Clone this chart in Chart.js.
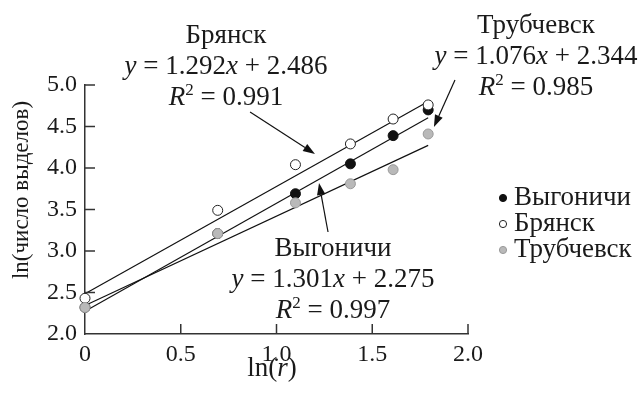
<!DOCTYPE html>
<html>
<head>
<meta charset="utf-8">
<script src="https://cdn.jsdelivr.net/npm/chart.js@4.4.1/dist/chart.umd.min.js"></script>
<style>
  html, body { margin: 0; padding: 0; background: #fff; }
  canvas { display: block; }
</style>
</head>
<body>
<canvas id="c" width="641" height="393"></canvas>
<script>
// ln(r) for r = 1..6
const lnR = [0, 0.693, 1.099, 1.386, 1.609, 1.792];
const sites = ['Выгоничи', 'Брянск', 'Трубчевск'];
// ln(число выделов) per site
const vygonichi = [2.32, 3.21, 3.69, 4.05, 4.39, 4.70];
const bryansk = [2.43, 3.49, 4.04, 4.29, 4.59, 4.76];
const trubchevsk = [2.32, 3.21, 3.58, 3.81, 3.98, 4.41];
// linear fits y = a*x + b
const slopes = [1.301, 1.292, 1.076];
const intercepts = [2.275, 2.486, 2.344];
const rSquared = [0.997, 0.991, 0.985];
const xTickLabels = ['0', '0.5', '1.0', '1.5', '2.0'];
const yTickLabels = ['2.0', '2.5', '3.0', '3.5', '4.0', '4.5', '5.0'];

const FONT = "'Liberation Serif', 'Times New Roman', serif";
const TICK_FS = 24;
const NOTE_FS = 27;

const seriesValues = [vygonichi, bryansk, trubchevsk];
const pointStyles = [
  { bg: '#111111', border: '#111111' },
  { bg: '#ffffff', border: '#222222' },
  { bg: '#b9b9b9', border: '#9a9a9a' }
];

// label block (data coords of the first line's centre) and arrow tail/tip
const notes = [
  { x: 1.295, y: 3.048, from: [1.269, 3.229], to: [1.222, 3.819] },
  { x: 0.736, y: 5.614, from: [0.862, 4.675], to: [1.201, 4.169] },
  { x: 2.355, y: 5.735, from: [1.932, 5.060], to: [1.822, 4.494] }
];

const pointSets = seriesValues.map((vals, i) => ({
  type: 'scatter',
  label: sites[i],
  data: lnR.map((x, k) => ({ x, y: vals[k] })),
  backgroundColor: pointStyles[i].bg,
  borderColor: pointStyles[i].border,
  borderWidth: 1,
  pointRadius: 5,
  pointHoverRadius: 5,
  clip: false,
  order: 3 - i
}));

const xEnd = lnR[lnR.length - 1];
const fitSets = slopes.map((a, i) => ({
  type: 'line',
  label: sites[i] + ' fit',
  data: [0, xEnd].map(x => ({ x, y: a * x + intercepts[i] })),
  borderColor: '#111111',
  borderWidth: 1.2,
  pointRadius: 0,
  fill: false,
  clip: false,
  order: 10
}));

function fmt(v) { return v.toFixed(3); }

function drawRich(ctx, segs, cx, cy, fs) {
  const parts = segs.map(s => {
    const size = s.sup ? Math.round(fs * 0.62) : fs;
    const font = (s.i ? 'italic ' : '') + size + 'px ' + FONT;
    ctx.font = font;
    return { s, font, w: ctx.measureText(s.t).width };
  });
  const total = parts.reduce((acc, p) => acc + p.w, 0);
  let x = cx - total / 2;
  ctx.textAlign = 'left';
  ctx.textBaseline = 'alphabetic';
  const base = cy + fs * 0.33;
  parts.forEach(p => {
    ctx.font = p.font;
    ctx.fillText(p.s.t, x, p.s.sup ? base - fs * 0.38 : base);
    x += p.w;
  });
}

function arrow(ctx, x1, y1, x2, y2) {
  const ang = Math.atan2(y2 - y1, x2 - x1);
  const len = 12, half = 4.2;
  const bx = x2 - len * Math.cos(ang), by = y2 - len * Math.sin(ang);
  ctx.beginPath();
  ctx.moveTo(x1, y1);
  ctx.lineTo(bx, by);
  ctx.lineWidth = 1.2;
  ctx.strokeStyle = '#111';
  ctx.stroke();
  ctx.beginPath();
  ctx.moveTo(x2, y2);
  ctx.lineTo(bx + half * Math.sin(ang), by - half * Math.cos(ang));
  ctx.lineTo(bx - half * Math.sin(ang), by + half * Math.cos(ang));
  ctx.closePath();
  ctx.fillStyle = '#111';
  ctx.fill();
}

const decorations = {
  id: 'decorations',
  afterDraw(chart) {
    const { ctx, chartArea: ca, scales: { x: xs, y: ys } } = chart;
    ctx.save();

    // inward tick marks
    ctx.strokeStyle = '#333';
    ctx.lineWidth = 1.5;
    xs.ticks.forEach(t => {
      if (t.value === xs.min) return;
      const px = xs.getPixelForValue(t.value);
      ctx.beginPath(); ctx.moveTo(px, ca.bottom); ctx.lineTo(px, ca.bottom - 10); ctx.stroke();
    });
    ys.ticks.forEach(t => {
      if (t.value === ys.min) return;
      const py = ys.getPixelForValue(t.value);
      ctx.beginPath(); ctx.moveTo(ca.left, py); ctx.lineTo(ca.left + 10, py); ctx.stroke();
    });

    // axis titles
    ctx.fillStyle = '#1a1a1a';
    ctx.save();
    ctx.translate(22, 190);
    ctx.rotate(-Math.PI / 2);
    ctx.font = '23px ' + FONT;
    ctx.textAlign = 'center';
    ctx.textBaseline = 'middle';
    ctx.fillText('ln(число выделов)', 0, 0);
    ctx.restore();
    drawRich(ctx, [{ t: 'ln(' }, { t: 'r', i: true }, { t: ')' }], 272, 367, 27);

    // fit annotations with arrows
    notes.forEach((n, i) => {
      const cx = xs.getPixelForValue(n.x);
      const cy = ys.getPixelForValue(n.y);
      ctx.fillStyle = '#1a1a1a';
      drawRich(ctx, [{ t: sites[i] }], cx, cy, NOTE_FS);
      drawRich(ctx, [{ t: 'y', i: true }, { t: ' = ' + fmt(slopes[i]) }, { t: 'x', i: true }, { t: ' + ' + fmt(intercepts[i]) }], cx, cy + 31, NOTE_FS);
      drawRich(ctx, [{ t: 'R', i: true }, { t: '2', sup: true }, { t: ' = ' + fmt(rSquared[i]) }], cx, cy + 62, NOTE_FS);
      arrow(ctx,
        xs.getPixelForValue(n.from[0]), ys.getPixelForValue(n.from[1]),
        xs.getPixelForValue(n.to[0]), ys.getPixelForValue(n.to[1]));
    });

    // legend
    sites.forEach((name, i) => {
      const ly = 196 + i * 26;
      ctx.beginPath();
      ctx.arc(503, ly + 2, 3.6, 0, Math.PI * 2);
      ctx.fillStyle = pointStyles[i].bg;
      ctx.fill();
      ctx.lineWidth = 1;
      ctx.strokeStyle = pointStyles[i].border;
      ctx.stroke();
      ctx.fillStyle = '#1a1a1a';
      ctx.font = NOTE_FS + 'px ' + FONT;
      ctx.textAlign = 'left';
      ctx.textBaseline = 'alphabetic';
      ctx.fillText(name, 514, ly + NOTE_FS * 0.33);
    });

    ctx.restore();
  }
};

new Chart(document.getElementById('c'), {
  data: { datasets: [...fitSets, ...pointSets] },
  options: {
    responsive: false,
    devicePixelRatio: 1,
    animation: false,
    events: [],
    layout: { padding: { left: 0, top: 85, right: 173, bottom: 0 } },
    plugins: { legend: { display: false }, tooltip: { enabled: false } },
    scales: {
      x: {
        type: 'linear',
        min: 0, max: 2,
        afterFit(s) { s.height = 59; },
        grid: { display: false, drawTicks: false },
        border: { display: true, color: '#333', width: 1.5 },
        ticks: {
          stepSize: 0.5,
          padding: 6,
          color: '#1a1a1a',
          font: { family: FONT, size: TICK_FS },
          callback: (v, idx) => xTickLabels[idx]
        }
      },
      y: {
        type: 'linear',
        min: 2, max: 5,
        afterFit(s) { s.width = 85; },
        grid: { display: false, drawTicks: false },
        border: { display: true, color: '#333', width: 1.5 },
        ticks: {
          stepSize: 0.5,
          padding: 8,
          color: '#1a1a1a',
          font: { family: FONT, size: TICK_FS },
          callback: (v, idx) => yTickLabels[idx]
        }
      }
    }
  },
  plugins: [decorations]
});
</script>
</body>
</html>
